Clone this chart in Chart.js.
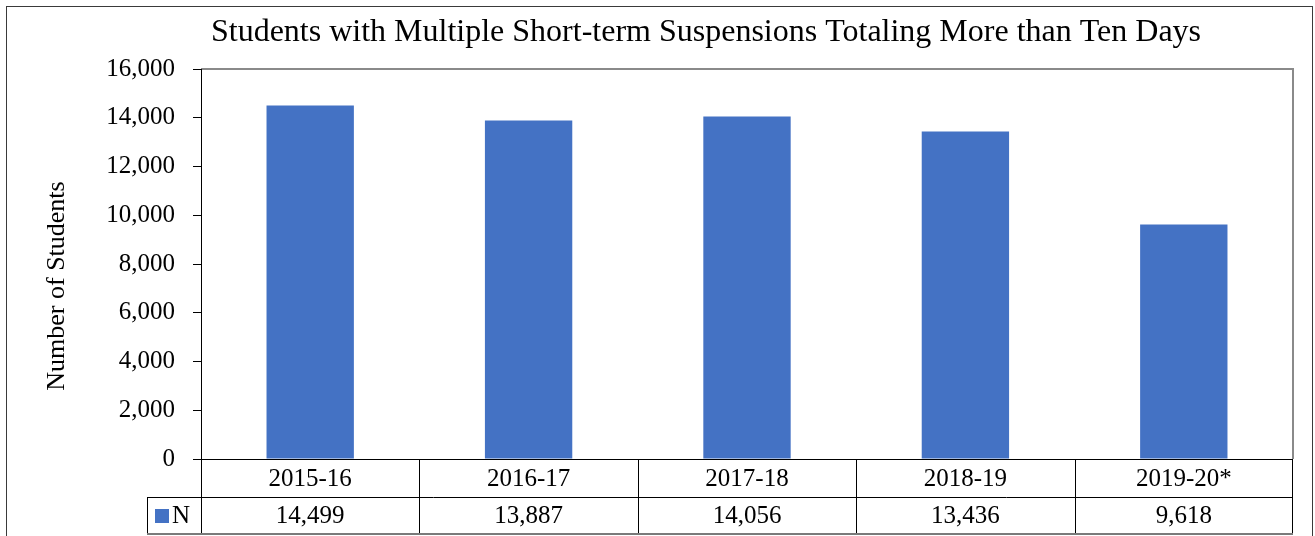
<!DOCTYPE html>
<html>
<head>
<meta charset="utf-8">
<script src="https://cdn.jsdelivr.net/npm/chart.js@4/dist/chart.umd.min.js"></script>
<style>
  body { margin: 0; background: #fff; }
  #wrap { width: 1315px; height: 536px; }
</style>
</head>
<body>
<div id="wrap"><canvas id="myChart" width="1315" height="536"></canvas></div>
<script>
// dades del grafic
const years = ['2015-16', '2016-17', '2017-18', '2018-19', '2019-20*'];
const students = [14499, 13887, 14056, 13436, 9618];
const seriesName = 'N';
const chartTitle = 'Students with Multiple Short-term Suspensions Totaling More than Ten Days';
const yTitle = 'Number of Students';

const barColor = '#4472C4';
const serif = "'Liberation Serif', 'Times New Roman', serif";

const fmt = (v) => v.toLocaleString('en-US');

// taula de dades sota l'eix X, com a Excel, i titols
const dataTable = {
    id: 'dataTable',
    afterDraw(chart) {
        const ctx = chart.ctx;
        const area = chart.chartArea;
        const x = chart.scales.x;
        const n = years.length;
        const colW = (area.right - area.left) / n;
        const y0 = area.bottom;
        const y1 = y0 + 38;
        const y2 = y1 + 37;
        const legLeft = 147;

        ctx.save();
        // marc exterior
        ctx.strokeStyle = '#3a3a3a';
        ctx.lineWidth = 1;
        ctx.strokeRect(6.5, 6.5, 1306, 560);

        // titol
        ctx.fillStyle = '#000';
        ctx.font = '32px ' + serif;
        ctx.textAlign = 'center';
        ctx.textBaseline = 'middle';
        ctx.fillText(chartTitle, 706, 33);

        // vora de l'area del grafic
        ctx.strokeStyle = '#8a8a8a';
        ctx.lineWidth = 2;
        ctx.beginPath();
        ctx.moveTo(area.left, area.top);
        ctx.lineTo(area.right, area.top);
        ctx.lineTo(area.right, area.bottom);
        ctx.stroke();

        // linies de la taula
        ctx.lineWidth = 1;
        ctx.strokeStyle = '#000';
        ctx.beginPath();
        ctx.moveTo(area.left + 0.5, area.top);
        ctx.lineTo(area.left + 0.5, y2);
        ctx.moveTo(area.left - 8, y0 + 0.5);
        ctx.lineTo(area.right, y0 + 0.5);
        ctx.moveTo(legLeft, y1 + 0.5);
        ctx.lineTo(area.right, y1 + 0.5);
        ctx.moveTo(legLeft + 0.5, y1);
        ctx.lineTo(legLeft + 0.5, y2);
        ctx.moveTo(area.right - 0.5, y0);
        ctx.lineTo(area.right - 0.5, y2);
        for (let i = 1; i < n; i++) {
            const cx = Math.round(area.left + colW * i) + 0.5;
            ctx.moveTo(cx, y0);
            ctx.lineTo(cx, y2);
        }
        ctx.stroke();
        ctx.strokeStyle = '#7a7a7a';
        ctx.lineWidth = 2;
        ctx.beginPath();
        ctx.moveTo(legLeft, y2);
        ctx.lineTo(area.right, y2);
        ctx.stroke();

        // textos de la taula
        ctx.fillStyle = '#000';
        ctx.font = '25px ' + serif;
        ctx.textAlign = 'center';
        years.forEach((label, i) => {
            const cx = x.getPixelForValue(i);
            ctx.fillText(label, cx, (y0 + y1) / 2 + 1);
            ctx.fillText(fmt(students[i]), cx, (y1 + y2) / 2 + 1);
        });

        // llegenda
        ctx.fillStyle = barColor;
        ctx.fillRect(155, y1 + 12, 14, 14);
        ctx.fillStyle = '#000';
        ctx.textAlign = 'left';
        ctx.fillText(seriesName, 172, (y1 + y2) / 2 + 1);

        // titol de l'eix Y
        ctx.font = '26px ' + serif;
        ctx.translate(57, 286);
        ctx.rotate(-Math.PI / 2);
        ctx.textAlign = 'center';
        ctx.fillText(yTitle, 0, 0);
        ctx.restore();
    }
};

const ctx = document.getElementById('myChart').getContext('2d');
const chart = new Chart(ctx, {
    type: 'bar',
    data: {
        labels: years,
        datasets: [{
            label: seriesName,
            data: students,
            backgroundColor: barColor,
            borderWidth: 0,
            barPercentage: 1,
            categoryPercentage: 0.4
        }]
    },
    options: {
        responsive: false,
        animation: false,
        layout: { padding: { left: 0, right: 22, top: 69, bottom: 77 } },
        plugins: {
            legend: { display: false },
            tooltip: { enabled: false },
            title: { display: false }
        },
        scales: {
            x: {
                display: false
            },
            y: {
                min: 0,
                max: 16000,
                afterFit: (s) => { s.width = 201; },
                ticks: {
                    stepSize: 2000,
                    color: '#000',
                    padding: 18,
                    font: { family: serif, size: 25 },
                    callback: (v) => fmt(v)
                },
                grid: {
                    drawOnChartArea: false,
                    drawTicks: true,
                    tickLength: 8,
                    color: '#000'
                },
                border: { display: true, color: '#000' }
            }
        }
    },
    plugins: [dataTable]
});
</script>
</body>
</html>
